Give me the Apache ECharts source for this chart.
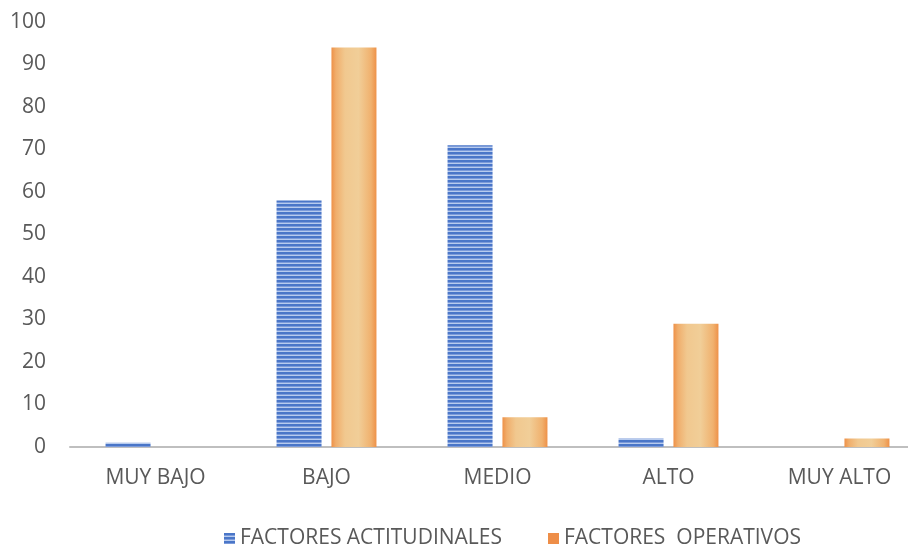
<!DOCTYPE html>
<html>
<head>
<meta charset="utf-8">
<script src="https://cdn.jsdelivr.net/npm/echarts@6/dist/echarts.min.js"></script>
<style>
  html, body { margin: 0; padding: 0; background: #ffffff; }
  #chart { width: 908px; height: 544px; }
</style>
</head>
<body>
<div id="chart"></div>
<script>
// Niveles evaluados
const categories = ['MUY BAJO', 'BAJO', 'MEDIO', 'ALTO', 'MUY ALTO'];
const actitudinales = [1, 58, 71, 2, 0];
const operativos = [0, 94, 7, 29, 2];
const yTicks = { min: 0, max: 100, interval: 10 };

// Horizontal stripe fill for the first series
function stripePattern() {
  const c = document.createElement('canvas');
  c.width = 8; c.height = 4;
  const ctx = c.getContext('2d');
  ctx.fillStyle = '#B7CBEE';
  ctx.fillRect(0, 0, 8, 4);
  ctx.fillStyle = '#4A76C8';
  ctx.fillRect(0, 0, 8, 2);
  ctx.fillStyle = '#7C9BDA';
  ctx.fillRect(0, 2, 8, 1);
  return c;
}

// Parchment-like fill for the second series
const parchment = {
  type: 'linear', x: 0, y: 0, x2: 1, y2: 0,
  colorStops: [
    { offset: 0, color: '#EE9148' },
    { offset: 0.1, color: '#F0AE6C' },
    { offset: 0.3, color: '#F1C88F' },
    { offset: 0.6, color: '#F1CE98' },
    { offset: 0.88, color: '#F0B16E' },
    { offset: 1, color: '#EE9148' }
  ]
};

const chart = echarts.init(document.getElementById('chart'), null, { renderer: 'canvas' });
const font = 'Open Sans, Lato, sans-serif';

chart.setOption({
  animation: false,
  backgroundColor: '#ffffff',
  // plot runs slightly past the right edge of the canvas
  grid: { left: 70, width: 855, top: 22, bottom: 97, containLabel: false, outerBoundsMode: 'none' },
  legend: {
    left: 219,
    top: 523,
    itemWidth: 11,
    itemHeight: 11,
    itemGap: 46,
    icon: 'rect',
    textStyle: { fontFamily: font, fontSize: 21, color: '#595959' },
    data: [
      { name: 'FACTORES ACTITUDINALES' },
      { name: 'FACTORES  OPERATIVOS', itemStyle: { color: '#EE8E48' } }
    ]
  },
  xAxis: {
    type: 'category',
    data: categories,
    axisLine: { show: true, lineStyle: { color: '#BFBFBF', width: 2 } },
    axisTick: { show: false },
    axisLabel: { fontFamily: font, fontSize: 21, color: '#595959', margin: 21 },
    splitLine: { show: false }
  },
  yAxis: {
    type: 'value',
    min: yTicks.min,
    max: yTicks.max,
    interval: yTicks.interval,
    axisLine: { show: false },
    axisTick: { show: false },
    splitLine: { show: false },
    axisLabel: { fontFamily: font, fontSize: 21, color: '#595959', margin: 24 }
  },
  series: [
    {
      name: 'FACTORES ACTITUDINALES',
      type: 'bar',
      data: actitudinales,
      barWidth: 45,
      barGap: '22%',
      itemStyle: { color: { image: stripePattern(), repeat: 'repeat' } }
    },
    {
      name: 'FACTORES  OPERATIVOS',
      type: 'bar',
      data: operativos,
      barWidth: 45,
      itemStyle: { color: parchment }
    }
  ]
});
</script>
</body>
</html>
